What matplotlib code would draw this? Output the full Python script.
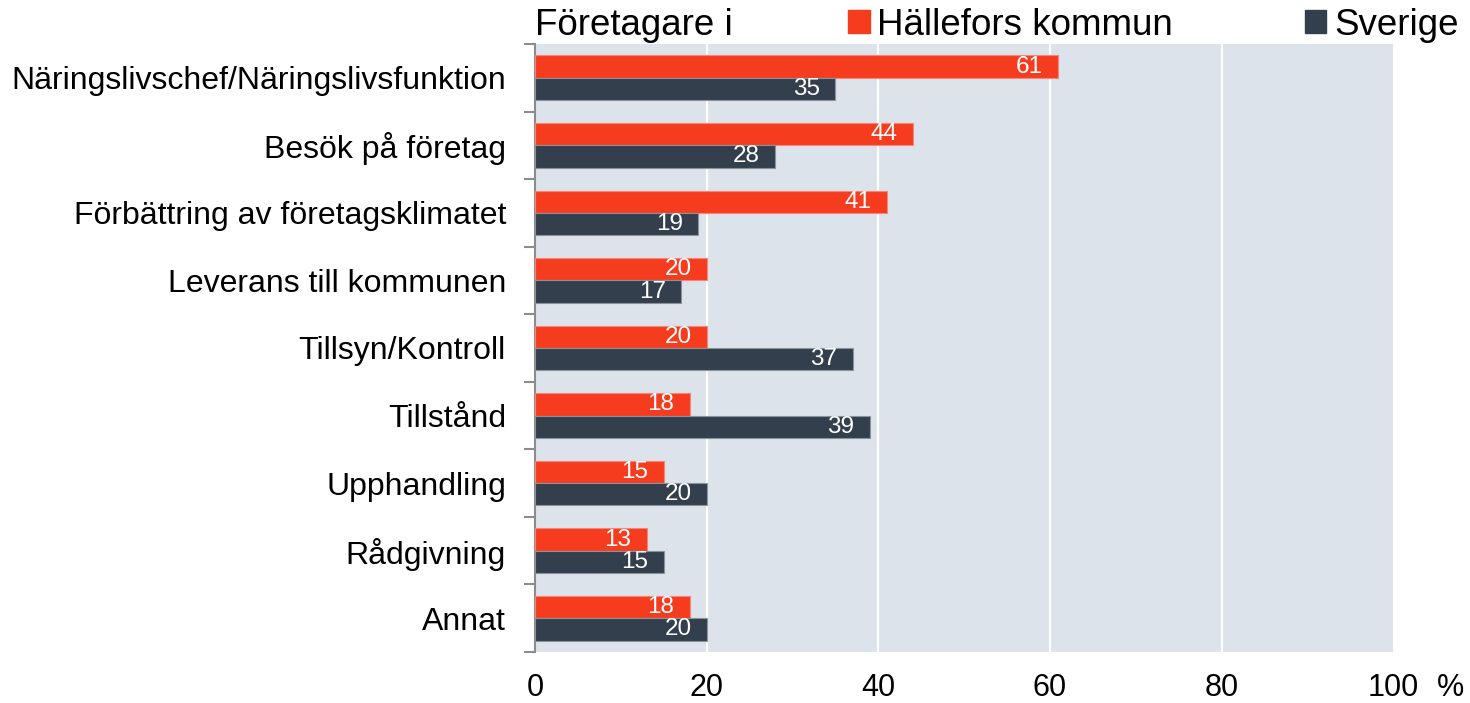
import numpy as np
import matplotlib
matplotlib.use("Agg")
import matplotlib.pyplot as plt
from matplotlib.patches import Patch

plt.rcParams['font.family'] = ['Liberation Sans', 'DejaVu Sans']

# Data
categories = ['Näringslivschef/Näringslivsfunktion', 'Besök på företag',
              'Förbättring av företagsklimatet', 'Leverans till kommunen',
              'Tillsyn/Kontroll', 'Tillstånd', 'Upphandling', 'Rådgivning', 'Annat']
hallefors = [61, 44, 41, 20, 20, 18, 15, 13, 18]
sverige = [35, 28, 19, 17, 37, 39, 20, 15, 20]
xticks = [0, 20, 40, 60, 80, 100]

red = '#f53c1e'
dark = '#343f4d'
bg = '#dce3ea'

fig = plt.figure(figsize=(14.7, 7.03), dpi=100)
ax = fig.add_axes([0.364, 0.0725, 0.5837, 0.865])
ax.set_facecolor(bg)

y = np.arange(len(categories))
h = 0.33
b1 = ax.barh(y - h / 2, hallefors, height=h, color=red, edgecolor='#f8857a', linewidth=0.8, zorder=3)
b2 = ax.barh(y + h / 2, sverige, height=h, color=dark, edgecolor='#8a929b', linewidth=0.8, zorder=3)

# value labels inside bar ends
for bars, vals in [(b1, hallefors), (b2, sverige)]:
    for bar, v in zip(bars, vals):
        ax.annotate(str(v), (v, bar.get_y() + bar.get_height() / 2),
                    xytext=(-11, 0), textcoords='offset points',
                    ha='right', va='center', color='white', fontsize=17.5, zorder=4)

ax.set_xlim(0, 100)
ax.set_ylim(len(categories) - 0.5, -0.5)

ax.set_xticks(xticks)
ax.set_xticklabels([str(t) for t in xticks], fontsize=22)
ax.tick_params(axis='x', length=0, pad=15)
for t in xticks[1:-1]:
    ax.axvline(t, color='white', linewidth=1.5, zorder=1)

ax.set_yticks(y)
ax.set_yticklabels(categories, fontsize=23)
ax.set_yticks(np.arange(len(categories) + 1) - 0.5, minor=True)
ax.tick_params(axis='y', which='major', length=0, pad=21)
ax.tick_params(axis='y', which='minor', length=8, width=1.5, color='#8c8c8c')

for s in ['top', 'right', 'bottom']:
    ax.spines[s].set_visible(False)
ax.spines['left'].set_color('#8c8c8c')
ax.spines['left'].set_linewidth(1.5)

ax.text(1.067, -0.0345, '%', transform=ax.transAxes, ha='center', va='top', fontsize=22)

fig.text(0.364, 0.964, 'Företagare i', ha='left', va='center', fontsize=26.5)
handles = [Patch(color=red), Patch(color=dark)]
fig.legend(handles, ['Hällefors kommun', 'Sverige'], loc='center left',
           bbox_to_anchor=(0.577, 0.964), ncol=2, frameon=False, fontsize=26.5,
           handlelength=0.58, handleheight=0.58, handletextpad=0.2,
           columnspacing=3.6, borderaxespad=0, borderpad=0)

fig.savefig('out.png', dpi=100)
